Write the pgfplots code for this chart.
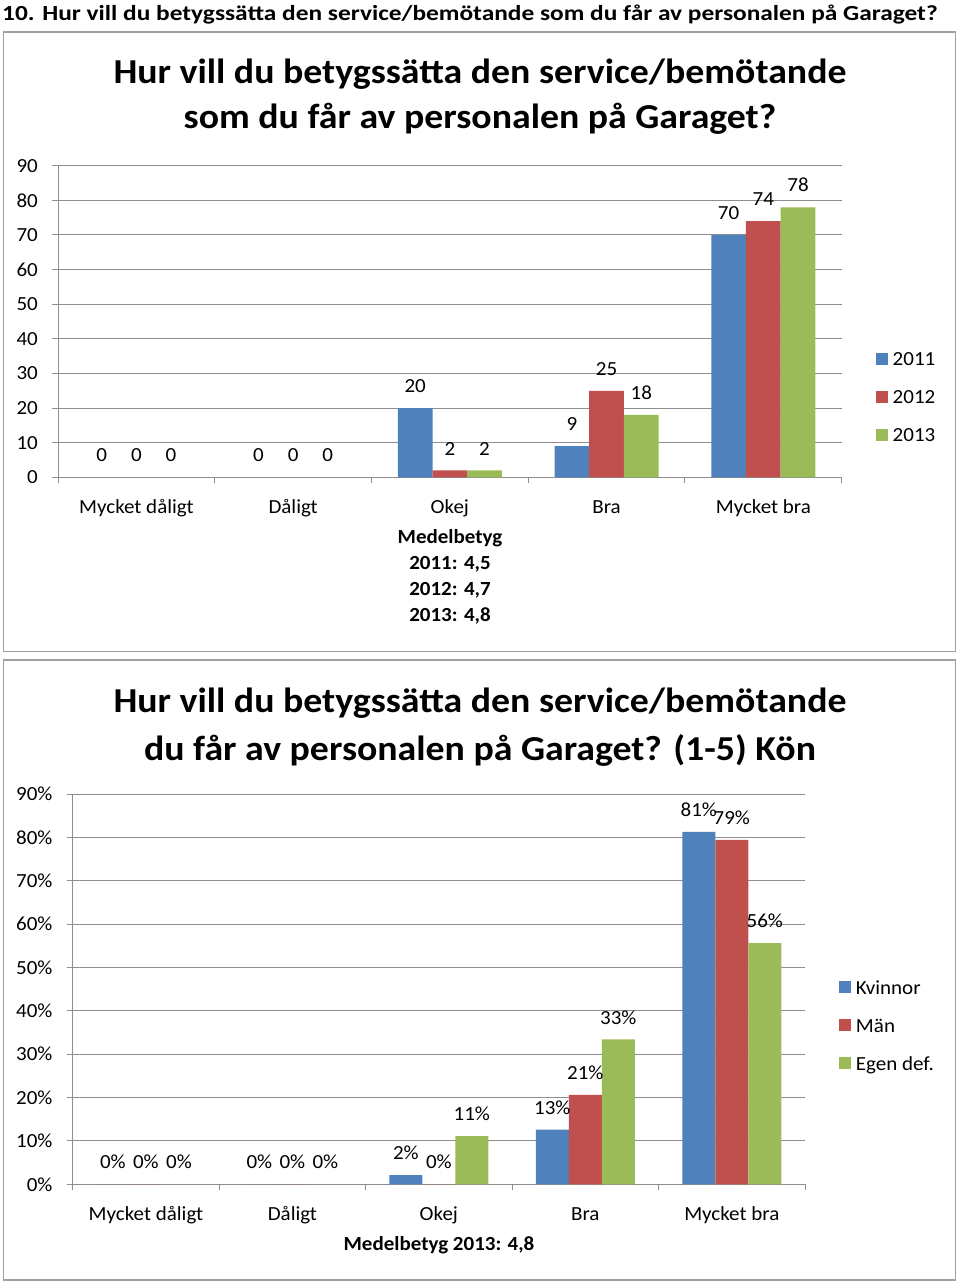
\documentclass[border=0pt]{standalone}
\usepackage{fontspec}
\setmainfont{Carlito}[FakeStretch=1.05]
\newfontfamily\hdrfont{Carlito}[FakeStretch=1.18]
\newfontfamily\ttlfont{Carlito}[FakeStretch=1.08]
\usepackage{pgfplots}
\usepackage{pgfplotstable}
\pgfplotsset{compat=1.18}
\definecolor{cblue}{HTML}{4F81BD}
\definecolor{cred}{HTML}{C0504D}
\definecolor{cgreen}{HTML}{9BBB59}
\definecolor{gridc}{HTML}{8E8E8E}
\definecolor{boxc}{HTML}{A0A0A0}
\pgfplotstableread{
x a b c
0 0 0 0
1 0 0 0
2 20 2 2
3 9 25 18
4 70 74 78
}\dataA
\pgfplotstableread{
x a b c
0 0 0 0
1 0 0 0
2 2.1 0 11.1
3 12.6 20.6 33.4
4 81.3 79.4 55.6
}\dataB
\newcommand{\fs}{\fontsize{20}{24}\selectfont}
\pgfplotsset{
  mybars/.style={
    scale only axis, clip=false,
    ybar=0pt,
    xmin=-0.5, xmax=4.5, ymin=0, ymax=90,
    ytick={0,10,...,90},
    xtick={-0.5,0.5,1.5,2.5,3.5,4.5}, xticklabels={,,,,,},
    extra x ticks={0,1,2,3,4},
    extra x tick labels={Mycket dåligt,Dåligt,Okej,Bra,Mycket bra},
    extra x tick style={major tick length=0pt},
    axis x line*=bottom, axis y line*=left,
    tick align=outside,
    major tick length=6pt,
    axis line style={draw=gridc, line width=1pt},
    ymajorgrids, grid style={gridc, line width=1pt},
    tick style={gridc, line width=1pt},
    /pgf/number format/assume math mode=true,
    ticklabel style={font=\fs, inner sep=0pt},
    yticklabel style={anchor=east, xshift=-14pt},
    xticklabel style={anchor=north, yshift=-21pt, text height=15pt, text depth=5pt},
    nodes near coords,
    every node near coord/.append style={font=\fs, anchor=south, inner sep=0pt, yshift=15pt, text=black},
    legend style={draw=none, fill=none, inner sep=0pt, outer sep=0pt, anchor=west, font=\fs,
      row sep=18pt, cells={anchor=west},
      nodes={inner sep=0pt, text height=14pt, text depth=6pt},
      /tikz/every odd column/.append style={column sep=5pt}},
    legend cell align=left,
  },
  sq/.style={draw=none, fill=#1,
    legend image code/.code={\fill[fill=#1] (0pt,0.31em) ++(0pt,-6pt) rectangle ++(12pt,12pt);}},
}
\begin{document}
\begin{tikzpicture}[x=1pt,y=1pt]
\useasboundingbox (0,0) rectangle (960,-1283);
% header
\node[anchor=base west, inner sep=0pt, font=\hdrfont\bfseries\fontsize{21.5}{24}\selectfont] at (2,-20) {10. Hur vill du betygssätta den service/bemötande som du får av personalen på Garaget?};
% boxes
\draw[boxc, line width=1.2pt] (3.5,-32) rectangle (955.5,-651.5);
\draw[boxc, line width=1.2pt] (3.5,-660) rectangle (955.5,-1280);
% titles
\node[anchor=base, inner sep=0pt, font=\ttlfont\bfseries\fontsize{35}{40}\selectfont] at (480,-83) {Hur vill du betygssätta den service/bemötande};
\node[anchor=base, inner sep=0pt, font=\ttlfont\bfseries\fontsize{35}{40}\selectfont] at (480,-128) {som du får av personalen på Garaget?};
\node[anchor=base, inner sep=0pt, font=\ttlfont\bfseries\fontsize{35}{40}\selectfont] at (480,-712) {Hur vill du betygssätta den service/bemötande};
\node[anchor=base, inner sep=0pt, font=\ttlfont\bfseries\fontsize{35}{40}\selectfont] at (480,-760) {du får av personalen på Garaget? (1-5) Kön};

\begin{axis}[mybars, at={(58pt,-477.3pt)}, anchor=south west,
  width=783.7pt, height=311.6pt, bar width=34.7pt,
  legend style={at={(axis description cs:1.0434,0.249)}}]
\addplot[sq=cblue] table[x=x,y=a] {\dataA};
\addplot[sq=cred] table[x=x,y=b] {\dataA};
\addplot[sq=cgreen] table[x=x,y=c] {\dataA};
\legend{2011,2012,2013}
\end{axis}
\node[anchor=base, inner sep=0pt, font=\bfseries\fs] at (450,-543) {Medelbetyg};
\node[anchor=base, inner sep=0pt, font=\bfseries\fs] at (450,-569) {2011: 4,5};
\node[anchor=base, inner sep=0pt, font=\bfseries\fs] at (450,-595) {2012: 4,7};
\node[anchor=base, inner sep=0pt, font=\bfseries\fs] at (450,-621) {2013: 4,8};

\begin{axis}[mybars, at={(72.7pt,-1184.3pt)}, anchor=south west,
  width=732.3pt, height=390.3pt, bar width=33pt,
  yticklabel={\pgfmathprintnumber{\tick}\%},
  nodes near coords={\pgfmathprintnumber[fixed,precision=0]{\pgfplotspointmeta}\%},
  legend style={at={(axis description cs:1.0464,0.40)}}]
\addplot[sq=cblue] table[x=x,y=a] {\dataB};
\addplot[sq=cred] table[x=x,y=b] {\dataB};
\addplot[sq=cgreen] table[x=x,y=c] {\dataB};
\legend{Kvinnor,Män,Egen def.}
\end{axis}
\node[anchor=base, inner sep=0pt, font=\bfseries\fs] at (439,-1250) {Medelbetyg 2013: 4,8};
\end{tikzpicture}
\end{document}
